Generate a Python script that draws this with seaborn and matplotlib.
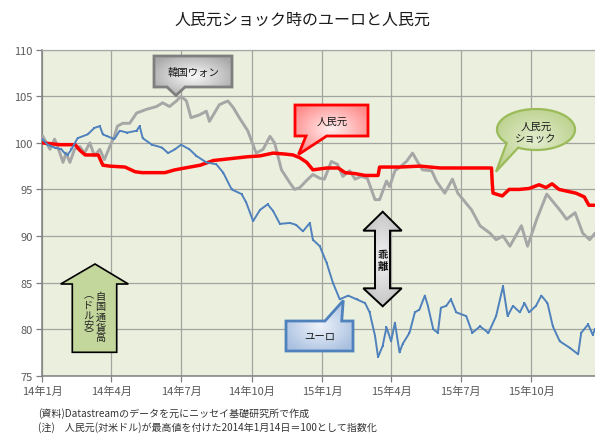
import numpy as np
import pandas as pd
import matplotlib
matplotlib.use("Agg")
import matplotlib.pyplot as plt
import seaborn as sns
from matplotlib.patches import Polygon
from matplotlib.colors import to_rgb

# ---------------- data ----------------
title = "人民元ショック時のユーロと人民元"
series_names = ["韓国ウォン", "人民元", "ユーロ"]

cny_dates = ["2014-01-01", "2014-01-24", "2014-02-13", "2014-02-19", "2014-02-26", "2014-03-15",
             "2014-03-21", "2014-03-30", "2014-04-19", "2014-05-02", "2014-05-11", "2014-06-10",
             "2014-06-23", "2014-07-06", "2014-07-26", "2014-08-12", "2014-09-03", "2014-09-25",
             "2014-10-12", "2014-10-29", "2014-11-13", "2014-11-24", "2014-12-03", "2014-12-12",
             "2014-12-20", "2015-01-07", "2015-01-22", "2015-01-31", "2015-02-13", "2015-02-26",
             "2015-03-15", "2015-03-17", "2015-04-12", "2015-05-09", "2015-06-04", "2015-06-30",
             "2015-07-19", "2015-08-10", "2015-08-11", "2015-08-12", "2015-08-24", "2015-09-02",
             "2015-09-15", "2015-09-28", "2015-10-11", "2015-10-20", "2015-10-28", "2015-11-06",
             "2015-11-28", "2015-12-09", "2015-12-15", "2015-12-22"]
cny_values = [100.0, 99.8, 99.8, 99.2, 98.7, 98.7,
              97.6, 97.5, 97.4, 96.9, 96.8, 96.8,
              97.1, 97.3, 97.6, 98.1, 98.3, 98.5,
              98.6, 98.9, 98.8, 98.7, 98.4, 97.9,
              97.1, 97.3, 97.3, 96.8, 96.7, 96.5,
              96.5, 97.4, 97.4, 97.5, 97.3, 97.3,
              97.3, 97.3, 95.6, 94.6, 94.3, 95.0,
              95.0, 95.1, 95.5, 95.2, 95.6, 95.0,
              94.6, 94.2, 93.3, 93.3]

krw_dates = ["2014-01-01", "2014-01-11", "2014-01-17", "2014-01-24", "2014-01-28", "2014-02-01",
             "2014-02-06", "2014-02-12", "2014-02-19", "2014-02-25", "2014-03-04", "2014-03-10",
             "2014-03-17", "2014-03-23", "2014-03-30", "2014-04-05", "2014-04-09", "2014-04-16",
             "2014-04-25", "2014-05-04", "2014-05-17", "2014-05-30", "2014-06-07", "2014-06-16",
             "2014-06-25", "2014-07-01", "2014-07-08", "2014-07-14", "2014-07-25", "2014-08-03",
             "2014-08-07", "2014-08-20", "2014-08-31", "2014-09-07", "2014-09-15", "2014-09-26",
             "2014-10-07", "2014-10-16", "2014-10-25", "2014-10-31", "2014-11-09", "2014-11-20",
             "2014-11-26", "2014-12-03", "2014-12-11", "2014-12-20", "2014-12-29", "2015-01-04",
             "2015-01-13", "2015-01-21", "2015-01-28", "2015-02-06", "2015-02-13", "2015-02-21",
             "2015-03-01", "2015-03-11", "2015-03-17", "2015-03-26", "2015-03-30", "2015-04-06",
             "2015-04-14", "2015-04-21", "2015-04-29", "2015-05-06", "2015-05-12", "2015-05-24",
             "2015-05-30", "2015-06-10", "2015-06-20", "2015-06-27", "2015-07-06", "2015-07-15",
             "2015-07-26", "2015-08-08", "2015-08-16", "2015-08-25", "2015-09-03", "2015-09-18",
             "2015-09-26", "2015-10-08", "2015-10-21", "2015-10-29", "2015-11-07", "2015-11-16",
             "2015-11-27", "2015-12-07", "2015-12-16", "2015-12-23"]
krw_values = [100.8, 99.3, 100.4, 98.9, 97.9, 98.9,
              97.9, 99.3, 99.6, 98.9, 100.0, 98.6,
              99.3, 98.2, 99.6, 100.7, 101.8, 102.1,
              102.1, 103.2, 103.6, 103.9, 104.3, 103.9,
              104.5, 105.0, 104.5, 102.7, 103.0, 103.4,
              102.3, 104.1, 104.5, 103.8, 102.7, 101.3,
              98.9, 99.3, 100.7, 100.0, 97.1, 95.7,
              95.0, 95.2, 95.9, 96.6, 96.2, 96.1,
              98.0, 97.7, 96.4, 97.0, 96.1, 96.4,
              96.2, 93.9, 93.9, 95.9, 95.3, 97.0,
              97.5, 98.0, 98.9, 97.9, 97.1, 97.0,
              95.9, 94.6, 96.1, 94.6, 93.7, 92.8,
              91.1, 90.3, 89.6, 90.0, 88.9, 91.1,
              88.9, 91.8, 94.5, 93.7, 92.8, 91.8,
              92.5, 90.3, 89.6, 90.3]

eur_dates = ["2014-01-01", "2014-01-08", "2014-01-17", "2014-01-26", "2014-01-30", "2014-02-03",
             "2014-02-08", "2014-02-16", "2014-03-01", "2014-03-10", "2014-03-17", "2014-03-21",
             "2014-03-27", "2014-04-05", "2014-04-12", "2014-04-22", "2014-05-04", "2014-05-08",
             "2014-05-12", "2014-05-24", "2014-06-06", "2014-06-14", "2014-06-23", "2014-07-01",
             "2014-07-12", "2014-07-21", "2014-08-03", "2014-08-16", "2014-08-25", "2014-09-05",
             "2014-09-18", "2014-09-24", "2014-10-03", "2014-10-12", "2014-10-22", "2014-10-29",
             "2014-11-07", "2014-11-20", "2014-11-28", "2014-12-07", "2014-12-16", "2014-12-20",
             "2014-12-29", "2015-01-07", "2015-01-15", "2015-01-24", "2015-02-04", "2015-02-15",
             "2015-02-26", "2015-03-04", "2015-03-11", "2015-03-15", "2015-03-21", "2015-03-26",
             "2015-04-01", "2015-04-06", "2015-04-12", "2015-04-16", "2015-04-25", "2015-05-02",
             "2015-05-08", "2015-05-15", "2015-05-19", "2015-05-26", "2015-06-01", "2015-06-05",
             "2015-06-12", "2015-06-18", "2015-06-25", "2015-07-08", "2015-07-16", "2015-07-26",
             "2015-08-06", "2015-08-16", "2015-08-25", "2015-08-31", "2015-09-07", "2015-09-16",
             "2015-09-22", "2015-09-28", "2015-10-07", "2015-10-14", "2015-10-22", "2015-10-29",
             "2015-11-07", "2015-11-20", "2015-12-01", "2015-12-05", "2015-12-14", "2015-12-20",
             "2015-12-23"]
eur_values = [100.4, 99.8, 99.5, 99.3, 98.9, 98.7,
              99.3, 100.5, 100.9, 101.6, 101.8, 100.9,
              100.7, 100.4, 101.3, 101.1, 101.3, 101.8,
              100.5, 99.8, 99.5, 98.9, 99.3, 99.8,
              99.3, 98.6, 97.9, 97.7, 96.8, 95.0,
              94.5, 93.6, 91.6, 92.8, 93.4, 92.7,
              91.3, 91.4, 91.2, 90.5, 91.4, 89.6,
              88.9, 87.1, 85.0, 83.2, 83.6, 83.2,
              82.8, 81.8, 79.3, 77.0, 78.2, 80.2,
              78.7, 80.7, 77.5, 78.4, 79.6, 81.8,
              82.1, 83.6, 82.5, 80.0, 79.6, 82.3,
              82.5, 83.2, 81.8, 81.4, 79.6, 80.3,
              79.6, 81.4, 84.6, 81.4, 82.5, 81.8,
              82.8, 81.8, 82.5, 83.6, 82.8, 80.3,
              78.7, 78.0, 77.3, 79.6, 80.5, 79.4,
              80.0]

x_tick_dates = ["2014-01-01", "2014-04-01", "2014-07-01", "2014-10-01",
                "2015-01-01", "2015-04-01", "2015-07-01", "2015-10-01"]
x_tick_labels = ["14年1月", "14年4月", "14年7月", "14年10月",
                 "15年1月", "15年4月", "15年7月", "15年10月"]
y_ticks = [75, 80, 85, 90, 95, 100, 105, 110]
x_range = ["2014-01-01", "2015-12-23"]

source_note = "(資料)Datastreamのデータを元にニッセイ基礎研究所で作成"
data_note = "(注)　人民元(対米ドル)が最高値を付けた2014年1月14日＝100として指数化"

# ---------------- style ----------------
sns.set_theme(style="white")
plt.rcParams["font.family"] = ["Noto Sans CJK JP", "DejaVu Sans"]

W, H = 595, 435
fig = plt.figure(figsize=(W / 100, H / 100), dpi=100)
fig.patch.set_facecolor("white")

L, R, T, B = 42.3, 595.0, 50.7, 376.7
ax = fig.add_axes([L / W, 1 - B / H, (R - L) / W, (B - T) / H])
ax.set_facecolor("#EBF0DE")

df_krw = pd.DataFrame({"date": pd.to_datetime(krw_dates), "value": krw_values})
df_cny = pd.DataFrame({"date": pd.to_datetime(cny_dates), "value": cny_values})
df_eur = pd.DataFrame({"date": pd.to_datetime(eur_dates), "value": eur_values})

sns.lineplot(data=df_krw, x="date", y="value", color="#A6A6A6", linewidth=2.1, ax=ax,
             label=series_names[0], legend=False, zorder=3)
sns.lineplot(data=df_cny, x="date", y="value", color="#FF0000", linewidth=2.5, ax=ax,
             label=series_names[1], legend=False, zorder=4)
sns.lineplot(data=df_eur, x="date", y="value", color="#4F81BD", linewidth=1.4, ax=ax,
             label=series_names[2], legend=False, zorder=5,
             marker="s", markersize=2.0, markeredgewidth=0)

ax.set_xlim(pd.to_datetime(x_range[0]), pd.to_datetime(x_range[1]))
ax.set_ylim(min(y_ticks), max(y_ticks))
ax.set_yticks(y_ticks)
ax.set_yticklabels([str(v) for v in y_ticks])
ax.set_xticks(pd.to_datetime(x_tick_dates))
ax.set_xticklabels(x_tick_labels)
ax.set_xlabel("")
ax.set_ylabel("")
ax.grid(True, color="#A3A3A0", linewidth=0.9)
ax.set_axisbelow(True)
ax.tick_params(axis="both", which="both", direction="out", length=4, width=0.9,
               color="#808080", labelsize=8, labelcolor="#595959", pad=3,
               left=True, bottom=True)
for s in ["left", "bottom"]:
    ax.spines[s].set_color("#808080")
    ax.spines[s].set_linewidth(1.1)
ax.spines["top"].set_color("#A8A8A8")
ax.spines["top"].set_linewidth(0.9)
ax.spines["right"].set_visible(False)

# ---------------- overlay (annotations in reference pixel space) ----------------
ov = fig.add_axes([0, 0, 1, 1], zorder=10)
ov.set_xlim(0, W)
ov.set_ylim(H, 0)
ov.axis("off")
ov.patch.set_alpha(0)


def grad_shape(verts, edge, c_in, c_out, lw=1.6, z=5):
    verts = np.asarray(verts, dtype=float)
    poly = Polygon(verts, closed=True, facecolor="none", edgecolor=edge, linewidth=lw, zorder=z + 1)
    ov.add_patch(poly)
    x0, y0 = verts.min(axis=0)
    x1, y1 = verts.max(axis=0)
    n = 120
    gx, gy = np.meshgrid(np.linspace(-1, 1, n), np.linspace(-1, 1, n))
    r = np.clip(np.sqrt(gx ** 2 + gy ** 2) / 1.2, 0, 1)[..., None]
    ci, co = np.array(to_rgb(c_in)), np.array(to_rgb(c_out))
    img = ci * (1 - r) + co * r
    im = ov.imshow(img, extent=[x0, x1, y1, y0], aspect="auto", zorder=z, interpolation="bilinear")
    clip = Polygon(verts, closed=True, transform=ov.transData)
    im.set_clip_path(clip)
    ov.set_xlim(0, W)
    ov.set_ylim(H, 0)


# 韓国ウォン callout
grad_shape([(154, 57), (232, 57), (232, 88), (185, 88), (176, 96.5), (167, 88), (154, 88)],
           "#7F7F7F", "#FAFAFA", "#A9A9A9", lw=2.0)
ov.text(193, 72.5, series_names[0], ha="center", va="center", fontsize=7.5, color="#1A1A1A", zorder=8)

# 人民元 callout
grad_shape([(295, 106), (368, 106), (368, 137), (326.7, 137), (298.5, 155.5), (306, 137), (295, 137)],
           "#FF0000", "#FFF0F0", "#FF8A8A", lw=2.0)
ov.text(332, 121.5, series_names[1], ha="center", va="center", fontsize=7.5, color="#1A1A1A", zorder=8)

# ユーロ callout
grad_shape([(286, 322), (325, 322), (343.3, 301.5), (341.7, 322), (353, 322), (353, 352), (286, 352)],
           "#4F81BD", "#EEF3FA", "#A9C0E0", lw=2.0)
ov.text(319.5, 337, series_names[2], ha="center", va="center", fontsize=7.5, color="#1A1A1A", zorder=8)

# 人民元ショック callout (ellipse with pointer)
cx, cy, a, b = 536, 130.5, 39, 20.5
th1, th2 = np.deg2rad(138.7), np.deg2rad(117.3) + 2 * np.pi
ths = np.linspace(th1, th2, 120)
ell = [(cx + a * np.cos(t), cy + b * np.sin(t)) for t in ths]
ell.append((496, 172.7))
grad_shape(ell, "#9BBB59", "#E3EDCF", "#B9D08A", lw=1.6)
ov.text(536, 133, "人民元\nショック", ha="center", va="center", fontsize=7.5, color="#1A1A1A",
        linespacing=1.3, zorder=8)

# 乖離 double arrow
grad_shape([(382.7, 212.7), (401.7, 231.7), (390, 231.7), (390, 289.3), (401.7, 289.3),
            (382.7, 307.3), (363.3, 289.3), (375, 289.3), (375, 231.7), (363.3, 231.7)],
           "#000000", "#F2F2F2", "#BFBFBF", lw=1.4)
ov.text(382.7, 261, "乖\n離", ha="center", va="center", fontsize=7.5, fontweight="bold",
        color="#111111", linespacing=1.15, zorder=8)

# 自国通貨高 arrow
ov.add_patch(Polygon([(95, 265), (128.3, 285), (116.7, 285), (116.7, 353.3), (72.3, 353.3),
                      (72.3, 285), (60.7, 285)], closed=True, facecolor="#C3D69B",
                     edgecolor="#000000", linewidth=1.2, zorder=5))
ov.text(100.5, 317.5, "自\n国\n通\n貨\n高", ha="center", va="center", fontsize=7.3,
        color="#222222", linespacing=1.05, zorder=8)
ov.text(88.5, 315.5, "︵\nド\nル\n安\n︶", ha="center", va="center", fontsize=7.3,
        color="#222222", linespacing=1.0, zorder=8)

# title and notes
ov.text(302, 20, title, ha="center", va="center", fontsize=11.5, color="#1A1A1A")
ov.text(38, 414, source_note, ha="left", va="center", fontsize=7.2, color="#333333")
ov.text(38, 428, data_note, ha="left", va="center", fontsize=7.2, color="#333333")

fig.savefig("out.png", dpi=100, facecolor="white")
